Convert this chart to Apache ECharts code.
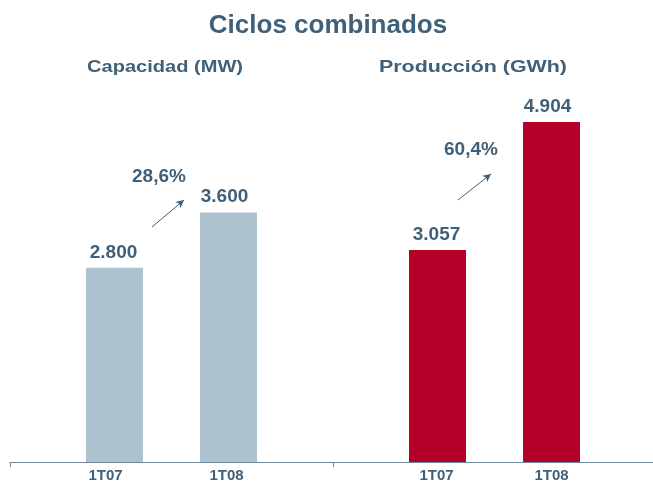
<!DOCTYPE html>
<html>
<head>
<meta charset="utf-8">
<script src="https://cdn.jsdelivr.net/npm/echarts@6/dist/echarts.min.js"></script>
<style>
html, body { margin: 0; padding: 0; background: #fff; overflow: hidden; }
#main { width: 656px; height: 481px; }
</style>
</head>
<body>
<div id="main"></div>
<script>
// datos
let groups = ['Capacidad (MW)', 'Producción (GWh)'];
let periods = ['1T07', '1T08'];
let values1T07 = [2800, 3057];
let values1T08 = [3600, 4904];
let growth = ['28,6%', '60,4%'];

window.addEventListener('load', function () {
    let font = 'Liberation Sans, Arial, sans-serif';
    let textColor = '#3f6078';
    let barColors = ['#adc1ce', '#b5002a'];

    function fmt(v) {
        return String(v).replace(/\B(?=(\d{3})+(?!\d))/g, '.');
    }

    let chart = echarts.init(document.getElementById('main'));

    function valueSeries(name, data, stack, dx) {
        return {
            name: name,
            type: 'bar',
            stack: stack,
            barWidth: 57,
            barGap: '100%',
            data: data.map(function (v, i) {
                return { value: v, itemStyle: { color: barColors[i] } };
            }),
            label: {
                show: true,
                position: 'top',
                distance: 6,
                offset: [dx, 0],
                formatter: function (p) { return fmt(p.value); },
                color: textColor,
                fontFamily: font,
                fontWeight: 'bold',
                fontSize: 19
            }
        };
    }

    function periodLabels(name, stack, shifts) {
        return {
            name: name + '-lbl',
            type: 'bar',
            stack: stack,
            barWidth: 57,
            barGap: '100%',
            data: shifts.map(function (dx) {
                return { value: 0, label: { offset: [dx, 0] } };
            }),
            itemStyle: { color: 'transparent' },
            label: {
                show: true,
                position: 'bottom',
                distance: 6,
                formatter: name,
                color: textColor,
                fontFamily: font,
                fontWeight: 'bold',
                fontSize: 15
            }
        };
    }

    let s07 = valueSeries(periods[0], values1T07, 'a', -1);
    s07.markLine = {
        silent: true,
        symbol: ['none', 'arrow'],
        symbolSize: [6, 8],
        label: { show: false },
        lineStyle: { color: textColor, width: 1, type: 'solid' },
        data: [
            [{ x: 152, y: 227 }, { x: 184, y: 200 }],
            [{ x: 458, y: 200 }, { x: 491, y: 174 }]
        ]
    };

    function subTitle(text, cx, sx) {
        return {
            type: 'text',
            x: cx,
            y: 59,
            scaleX: sx,
            style: {
                text: text,
                align: 'center',
                verticalAlign: 'top',
                fill: textColor,
                font: 'bold 17px ' + font
            }
        };
    }

    let option = {
        animation: false,
        title: {
            text: 'Ciclos combinados',
            left: 'center',
            top: 8,
            textStyle: { color: textColor, fontFamily: font, fontWeight: 'bold', fontSize: 26 }
        },
        graphic: [
            subTitle(groups[0], 165, 1.18),
            subTitle(groups[1], 473, 1.26),
            {
                type: 'text', left: 132, top: 167,
                style: { text: growth[0], fill: textColor, font: 'bold 19px ' + font }
            },
            {
                type: 'text', left: 444, top: 140,
                style: { text: growth[1], fill: textColor, font: 'bold 19px ' + font }
            }
        ],
        grid: { left: 10, right: 0, top: 46, bottom: 19, containLabel: false },
        xAxis: {
            type: 'category',
            data: groups,
            axisLine: { lineStyle: { color: '#6e879b', width: 1 } },
            axisTick: { show: true, length: 5, lineStyle: { color: '#6e879b' } },
            axisLabel: { show: false }
        },
        yAxis: {
            type: 'value',
            min: 0,
            max: 6000,
            show: false,
            splitLine: { show: false }
        },
        series: [
            periodLabels(periods[0], 'a', [-9, -1]),
            s07,
            periodLabels(periods[1], 'b', [-2, 0]),
            valueSeries(periods[1], values1T08, 'b', -4)
        ]
    };

    chart.setOption(option);
}, false);
</script>
</body>
</html>
